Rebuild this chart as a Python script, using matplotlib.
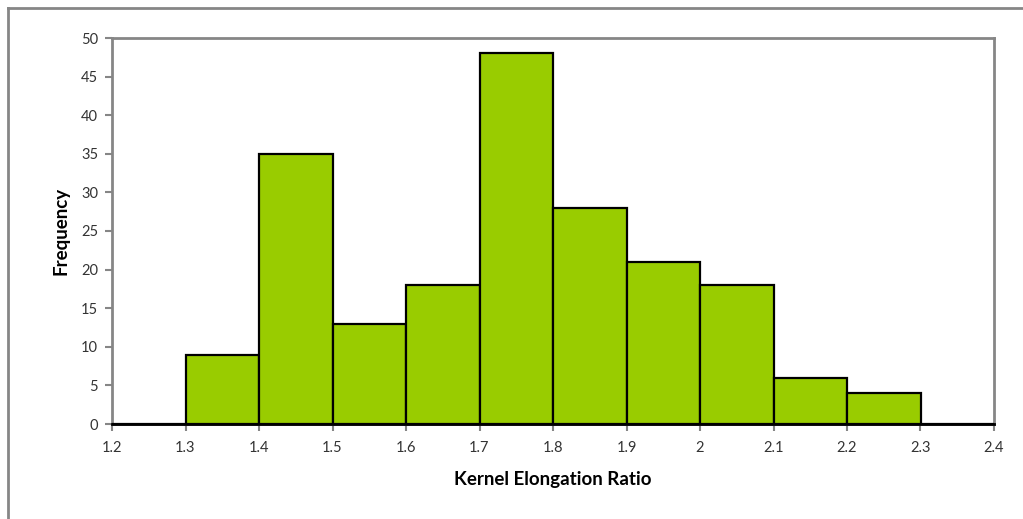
import matplotlib
matplotlib.use("Agg")
import matplotlib.pyplot as plt
from matplotlib.lines import Line2D

plt.rcParams['font.family'] = ['Lato', 'DejaVu Sans']

bin_edges = [1.2, 1.3, 1.4, 1.5, 1.6, 1.7, 1.8, 1.9, 2.0, 2.1, 2.2, 2.3]
counts = [0, 9, 35, 13, 18, 48, 28, 21, 18, 6, 4, 0]
x_ticks = [1.2, 1.3, 1.4, 1.5, 1.6, 1.7, 1.8, 1.9, 2.0, 2.1, 2.2, 2.3, 2.4]
x_labels = ["1.2", "1.3", "1.4", "1.5", "1.6", "1.7", "1.8", "1.9", "2", "2.1", "2.2", "2.3", "2.4"]
y_ticks = list(range(0, 55, 5))

fig = plt.figure(figsize=(10.23, 5.19), dpi=100)
ax = fig.add_axes([112 / 1023, 1 - 424 / 519, (994 - 112) / 1023, (424 - 38) / 519])

ax.bar(bin_edges, counts, width=0.1, align='edge', color='#99CC00',
       edgecolor='black', linewidth=1.6, zorder=3)

ax.set_xlim(1.2, 2.4)
ax.set_ylim(0, 50)
ax.set_xticks(x_ticks)
ax.set_xticklabels(x_labels)
ax.set_yticks(y_ticks)

for side in ['left', 'top', 'right', 'bottom']:
    ax.spines[side].set_color('#868686')
    ax.spines[side].set_linewidth(2)

ax.tick_params(axis='both', colors='#868686', labelcolor='#333333', labelsize=10.5,
               width=1.5, length=5, direction='out')
ax.tick_params(axis='x', pad=7)
ax.tick_params(axis='y', pad=5)

# black baseline drawn over the gray spine like the original
ax.axhline(0, color='black', linewidth=2, zorder=5, clip_on=False)

ax.set_xlabel('Kernel Elongation Ratio', fontsize=13.5, fontweight='bold', labelpad=12)
ax.set_ylabel('Frequency', fontsize=13.5, fontweight='bold', labelpad=8)

# outer chart border (only left and top visible in the crop)
fig.add_artist(Line2D([8 / 1023, 8 / 1023], [0, 1 - 8 / 519], transform=fig.transFigure,
                      color='#868686', linewidth=2))
fig.add_artist(Line2D([8 / 1023, 1], [1 - 8 / 519, 1 - 8 / 519], transform=fig.transFigure,
                      color='#868686', linewidth=2))

fig.savefig('out.png', dpi=100)
